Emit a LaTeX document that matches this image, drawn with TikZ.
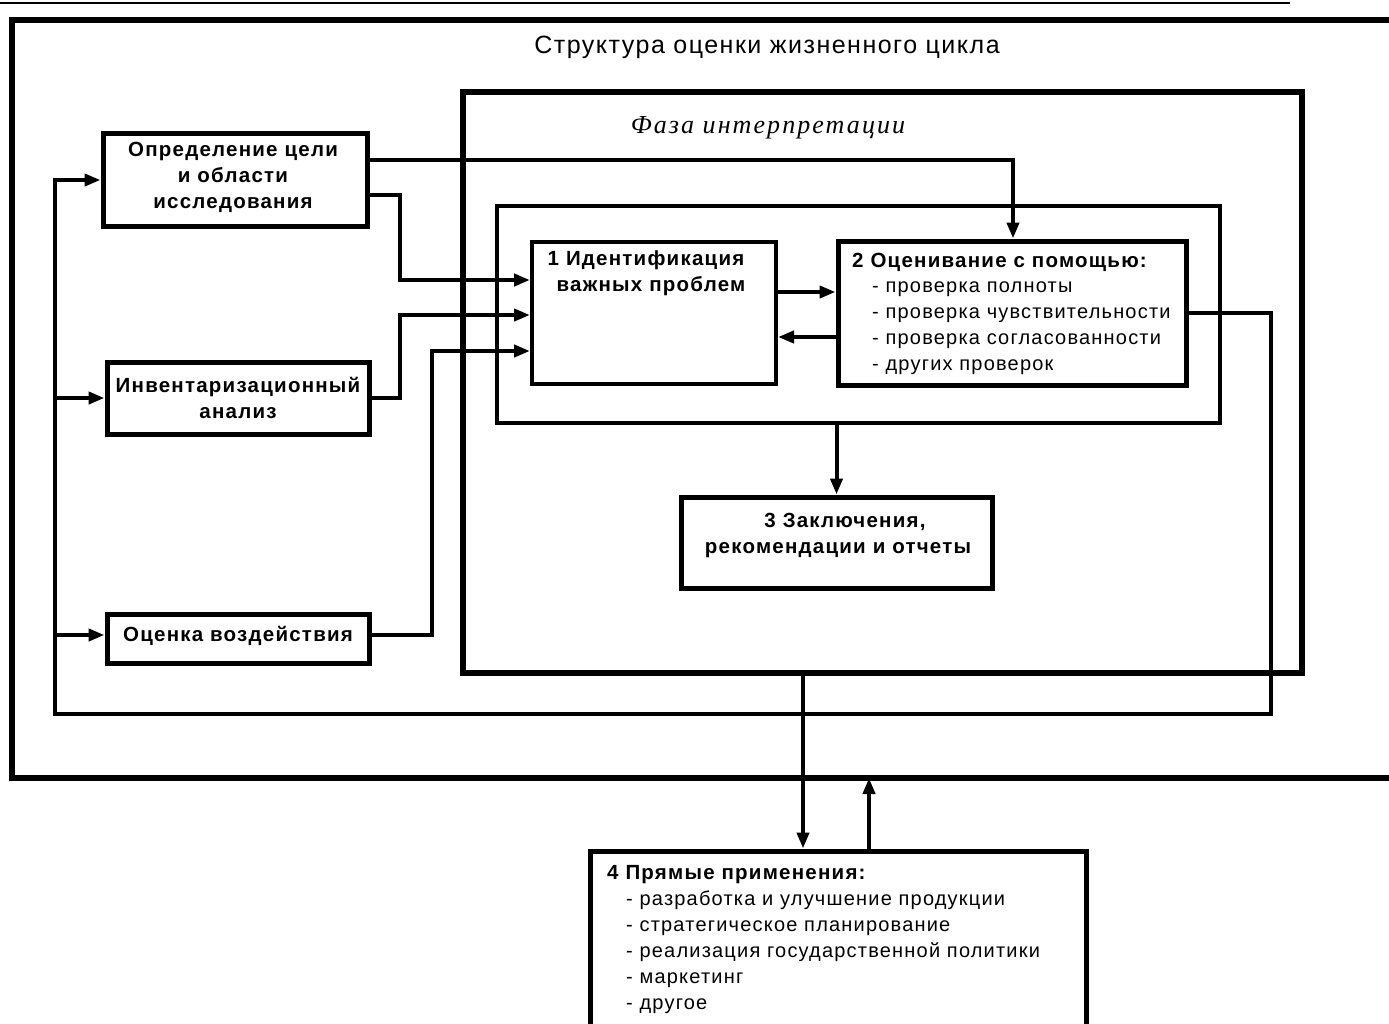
\documentclass[tikz,border=0pt]{standalone}
\usepackage{fontspec}
\setmainfont{Liberation Sans}
\newfontfamily\rsp[LetterSpace=6]{Liberation Sans}
\newfontfamily\bsp[LetterSpace=6]{Liberation Sans}
\newfontfamily\isp[LetterSpace=8]{Liberation Serif}
\usetikzlibrary{arrows.meta,calc}
\begin{document}
\begin{tikzpicture}[x=1pt,y=-1pt,
  box/.style={draw,line width=5pt,inner sep=0pt,rectangle},
  conn/.style={line width=4pt},
  arr/.style={conn,-{Triangle[length=16pt,width=12pt]}},
  bt/.style={font=\fontsize{20.5}{26}\bsp\bfseries,inner sep=0pt,align=center},
  bl/.style={font=\fontsize{20.5}{26}\bsp\bfseries,inner sep=0pt,anchor=base west},
  itm/.style={font=\fontsize{20}{26}\rsp,inner sep=0pt,anchor=base west},
]
\useasboundingbox (0,0) rectangle (1389,1023);
\fill[white] (0,0) rectangle (1389,1023);

% frames
\coordinate (topL) at (0,3);
\coordinate (topR) at (1290,3);
\draw[line width=2pt] (topL) -- (topR);
\coordinate (oTR) at (1395,20);
\coordinate (oTL) at (12,20);
\coordinate (oBL) at (12,778);
\coordinate (oBR) at (1395,778);
\draw[line width=6pt] (oTR) -- (oTL) -- (oBL) -- (oBR);

\node[box,line width=6pt,minimum width=839pt,minimum height=581pt] (phase) at (882.5,382.5) {};
\node[box,line width=4pt,minimum width=723pt,minimum height=217pt] (inner) at (858.5,314.5) {};

\node[font=\fontsize{25}{28}\rsp,inner sep=0pt] (title) at (767,47) {Структура оценки жизненного цикла};
\node[font=\fontsize{26}{30}\isp\itshape,inner sep=0pt] (phlabel) at (768,128) {Фаза интерпретации};

% left boxes
\node[box,minimum width=264pt,minimum height=93pt] (opred) at (235,179.5) {};
\node[bt] (opredT) at (233,177) {Определение цели\\и области\\исследования};
\node[box,minimum width=262pt,minimum height=72pt] (inv) at (238,398) {};
\node[bt] (invT) at (238,398) {Инвентаризационный\\анализ};
\node[box,minimum width=262pt,minimum height=49pt] (ocen) at (238,638.5) {};
\node[bt] (ocenT) at (238,636) {Оценка воздействия};

% box 1
\node[box,line width=4pt,minimum width=244pt,minimum height=142pt] (b1) at (654,313) {};
\node[bt,anchor=north] (b1T) at (646,250) {1 Идентификация\\\hspace*{10pt}важных проблем};

% box 2
\node[box,minimum width=348pt,minimum height=144pt] (b2) at (1012,313) {};
\node[bl] (b2T) at (852,267) {2 Оценивание с помощью:};
\node[itm] (b2a) at (872,292) {- проверка полноты};
\node[itm] (b2b) at (872,318) {- проверка чувствительности};
\node[itm] (b2c) at (872,344) {- проверка согласованности};
\node[itm] (b2d) at (872,370) {- других проверок};

% box 3
\node[box,minimum width=311pt,minimum height=91pt] (b3) at (836.5,542.5) {};
\node[bt] (b3T) at (838,535) {\hspace*{14pt}3 Заключения,\\рекомендации и отчеты};

% box 4
\node[box,minimum width=496pt,minimum height=220pt] (b4) at (838,961) {};
\node[bl] (b4T) at (607,879) {4 Прямые применения:};
\node[itm] (b4a) at (626,905) {- разработка и улучшение продукции};
\node[itm] (b4b) at (626,931) {- стратегическое планирование};
\node[itm] (b4c) at (626,957) {- реализация государственной политики};
\node[itm] (b4d) at (626,983) {- маркетинг};
\node[itm] (b4e) at (626,1009) {- другое};

% connectors
\draw[arr] ($(opred.east)+(0,-19.5)$) -- (1013,160) -- ($(b2.north)+(1,0)$);
\draw[arr] ($(opred.east)+(0,15.5)$) -- (400,195) -- (400,280) -- ($(b1.west)+(0,-33)$);
\draw[arr] (inv.east) -- (400,398) -- (400,315) -- ($(b1.west)+(0,2)$);
\draw[arr] ($(ocen.east)+(0,-3.5)$) -- (432,635) -- (432,351) -- ($(b1.west)+(0,38)$);
\draw[arr] ($(b1.east)+(0,-21)$) -- ($(b2.west)+(0,-21)$);
\draw[arr] ($(b2.west)+(0,24)$) -- ($(b1.east)+(0,24)$);
\draw[arr] (inner.south -| b3.north) -- (b3.north);
\draw[arr] (phase.south -| 803,0) -- (b4.north -| 803,0);
\draw[arr] (b4.north -| 869,0) -- (oBL -| 869,0);

% feedback loop
\coordinate (fb1) at (1271,313);
\coordinate (fb2) at (1271,714);
\coordinate (fb3) at (55,714);
\coordinate (fb4) at (55,180);
\draw[conn] (b2.east) -- (fb1) -- (fb2) -- (fb3) -- ([yshift=2pt]fb4);
\draw[arr] (fb4) -- (fb4 -| opred.west);
\draw[arr] (55,398) -- (inv.west);
\draw[arr] (55,635) -- (ocen.west |- 0,635);
\end{tikzpicture}
\end{document}
